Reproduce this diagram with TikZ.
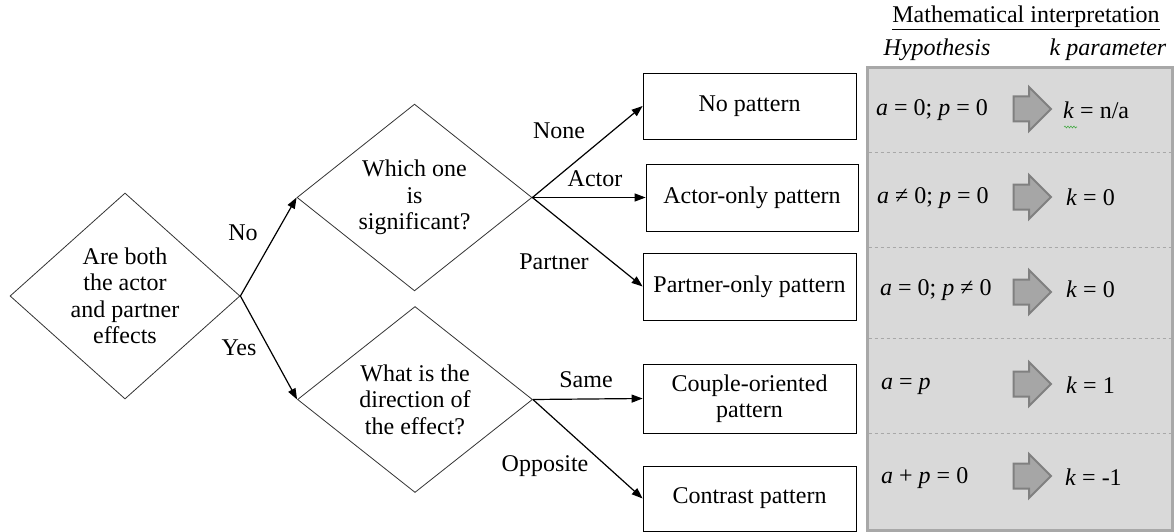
\documentclass[tikz,border=0pt]{standalone}
\usepackage{fontspec}
\setmainfont{Liberation Serif}
\usepackage{xcolor}
\definecolor{panel}{RGB}{217,217,217}
\definecolor{panelline}{RGB}{168,168,168}
\definecolor{blockfill}{RGB}{166,166,166}
\definecolor{blockline}{RGB}{128,128,128}
\definecolor{spell}{RGB}{70,170,70}
\tikzset{
  every node/.style={
    font=\fontsize{24}{26.5}\selectfont, text=black
  }
}
\usetikzlibrary{shapes.geometric}
\usetikzlibrary{shapes.arrows}
\usetikzlibrary{arrows.meta}
\usetikzlibrary{decorations.pathmorphing}

\begin{document}
\begin{tikzpicture}[x=1pt, y=-1pt,
    question/.style={diamond, draw=black!80, line width=.8pt, align=center,
      inner sep=0pt, minimum width=235pt, minimum height=186pt},
    outcome/.style={draw, line width=.8pt, align=center,
      minimum width=213pt, minimum height=67pt, inner sep=2pt},
    flow/.style={-{Triangle[length=11pt,width=8pt]}, line width=1.2pt},
    fat/.style={single arrow, fill=blockfill, draw=blockline, line width=2pt,
      minimum height=37pt, minimum width=42pt, inner sep=11.5pt,
      single arrow head extend=9.5pt},
    sep/.style={draw=panelline, dashed, line width=.8pt}]
    \useasboundingbox (0,0) rectangle (1174,532);

    % decisions
    \node[question, minimum width=230pt, minimum height=206pt] (both) at (125,296)
      {Are both\\the actor\\and partner\\effects};
    \node[question] (which) at (414.5,197.5) {Which one\\is\\significant?};
    \node[question] (dir) at (415,399.5) {What is the\\direction of\\the effect?};

    % outcomes
    \node[outcome, minimum height=66pt] (np) at (749.5,106) {No pattern};
    \node[outcome, minimum width=212pt] (ap) at (752,197.5) {Actor-only pattern};
    \node[outcome] (pp) at (749.5,286.5) {Partner-only pattern};
    \node[outcome, minimum height=69pt] (cp) at (749.5,398.5) {Couple-oriented\\pattern};
    \node[outcome, minimum height=65pt] (ctp) at (749.5,498.5) {Contrast pattern};

    \draw [flow] (both.east) -- (which.west);
    \draw [flow] (both.east) -- (dir.west);
    \draw [flow] (which.east) -- (np.west);
    \draw [flow] (which.east) -- (ap.west);
    \draw [flow] (which.east) -- (pp.west);
    \draw [flow] (dir.east) -- (cp.west);
    \draw [flow] (dir.east) -- (ctp.west);

    \node (lno) at (243,233) {No};
    \node (lyes) at (239,348) {Yes};
    \node (lnone) at (559,131) {None};
    \node (lactor) at (595,179) {Actor};
    \node (lpartner) at (554,262) {Partner};
    \node (lsame) at (586,380) {Same};
    \node (lopp) at (545,466) {Opposite};

    % interpretation panel
    \draw [fill=panel, draw=panelline, line width=3pt] (867,68) rectangle (1172.5,530.5);
    \draw [sep] (868.5,152) -- (1171,152);
    \draw [sep] (868.5,247) -- (1171,247);
    \draw [sep] (868.5,338) -- (1171,338);
    \draw [sep] (868.5,433) -- (1171,433);

    \node (title) at (1026,18) {\underline{Mathematical interpretation}};
    \node (hyp) at (937,50) {\textit{Hypothesis}};
    \node (kpar) at (1108,50) {\textit{k parameter}};

    \node[anchor=west, inner sep=0pt] (h1) at (876,110) {\textit{a} = 0; \textit{p} = 0};
    \node[anchor=west, inner sep=0pt] (h2) at (877,198) {\textit{a} ≠ 0; \textit{p} = 0};
    \node[anchor=west, inner sep=0pt] (h3) at (880,290) {\textit{a} = 0; \textit{p} ≠ 0};
    \node[anchor=west, inner sep=0pt] (h4) at (881,386) {\textit{a} = \textit{p}};
    \node[anchor=west, inner sep=0pt] (h5) at (881,478) {\textit{a} + \textit{p} = 0};

    \node[fat] (f1) at (1026,109) {};
    \node[fat] (f2) at (1026,197) {};
    \node[fat] (f3) at (1026,292) {};
    \node[fat] (f4) at (1026,384) {};
    \node[fat] (f5) at (1026,476) {};

    \node[anchor=west, inner sep=0pt] (k1) at (1063,110) {\textit{k} = n/a};
    \node[anchor=west, inner sep=0pt] (k2) at (1066,197) {\textit{k} = 0};
    \node[anchor=west, inner sep=0pt] (k3) at (1066,289) {\textit{k} = 0};
    \node[anchor=west, inner sep=0pt] (k4) at (1066,385) {\textit{k} = 1};
    \node[anchor=west, inner sep=0pt] (k5) at (1065,477) {\textit{k} = -1};

    \draw [spell, line width=.6pt, decorate,
      decoration={snake, amplitude=.9pt, segment length=3pt}] (1064,127) -- (1077,127);
\end{tikzpicture}
\end{document}
